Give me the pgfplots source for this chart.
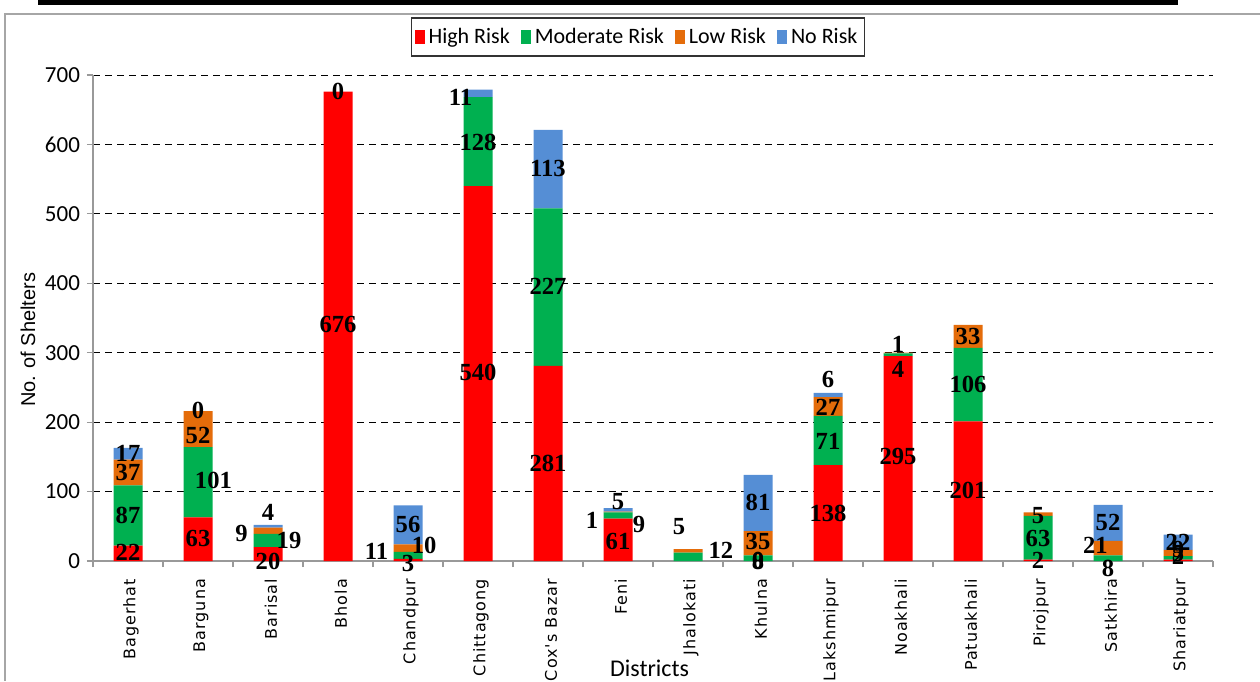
\documentclass[border=0pt]{standalone}
\usepackage{fontspec}
\setmainfont{Carlito}
\newfontfamily\lblfont{Liberation Serif}
\newfontfamily\tickfont[LetterSpace=6]{DejaVu Sans}
\newfontfamily\arialfont{Liberation Sans}
\usepackage{pgfplots}
\pgfplotsset{compat=1.18}
\definecolor{cHigh}{HTML}{FF0000}
\definecolor{cMod}{HTML}{00B050}
\definecolor{cLow}{HTML}{E46C0A}
\definecolor{cNo}{HTML}{558ED5}
\begin{document}
\begin{tikzpicture}
\useasboundingbox (0pt,0pt) rectangle (630pt,340.5pt);
\draw[line width=2.5pt] (19pt,339.25pt) -- (589pt,339.25pt);
\draw[gray!70, line width=0.75pt] (2.5pt,0pt) -- (2.5pt,333.5pt) -- (630pt,333.5pt);
\begin{axis}[
  at={(46.5pt,60pt)}, anchor=south west, scale only axis,
  width=560pt, height=243pt,
  xmin=-0.5, xmax=15.5, ymin=0, ymax=700,
  ybar stacked, bar width=14.5pt,
  axis x line*=bottom, axis y line*=left,
  axis line style={gray!80, line width=0.6pt},
  tick align=outside,
  ytick={0,100,...,700},
  ytick style={gray!80, line width=0.6pt},
  major tick length=3pt,
  yticklabel style={font=\fontsize{11.5}{13}\selectfont, black},
  /pgf/number format/assume math mode=true,
  ymajorgrids,
  grid style={black, dash pattern=on 3.5pt off 2.5pt, line width=0.5pt},
  xtick={-0.5,0.5,...,15.5},
  xticklabels={},
  xtick style={gray!80, line width=0.6pt},
  extra x ticks={0,1,...,15},
  extra x tick labels={Bagerhat,Barguna,Barisal,Bhola,Chandpur,Chittagong,Cox's Bazar,Feni,Jhalokati,Khulna,Lakshmipur,Noakhali,Patuakhali,Pirojpur,Satkhira,Shariatpur},
  extra x tick style={major tick length=0pt, xticklabel style={rotate=90, anchor=east, font=\tickfont\fontsize{8}{9}\selectfont, xshift=-5.5pt, yshift=-1.5pt}},
  xlabel={Districts},
  xlabel style={at={(axis description cs:0.497,-0.22)}, anchor=center, font=\fontsize{12}{14}\selectfont},
  ylabel={No. of Shelters},
  ylabel style={at={(axis description cs:-0.058,0.455)}, anchor=center, font=\arialfont\fontsize{10}{12}\selectfont},
  legend style={at={(0.4866,1.119)}, anchor=north, draw=black!80, line width=0.8pt,
    font=\fontsize{11}{13}\selectfont, inner xsep=1.5pt, inner ysep=3pt,
    /tikz/every even column/.append style={column sep=3.5pt}},
  legend columns=4,
  legend image code/.code={\fill[#1] (0pt,-3.5pt) rectangle (5pt,3.5pt);},
]
\addplot[fill=cHigh, draw=none] coordinates {(0,22) (1,63) (2,20) (3,676) (4,3) (5,540) (6,281) (7,61) (8,0) (9,0) (10,138) (11,295) (12,201) (13,2) (14,0) (15,2)};
\addplot[fill=cMod, draw=none] coordinates {(0,87) (1,101) (2,19) (3,0) (4,10) (5,128) (6,227) (7,9) (8,12) (9,8) (10,71) (11,4) (12,106) (13,63) (14,8) (15,5)};
\addplot[fill=cLow, draw=none] coordinates {(0,37) (1,52) (2,9) (3,0) (4,11) (5,0) (6,0) (7,1) (8,5) (9,35) (10,27) (11,1) (12,33) (13,5) (14,21) (15,9)};
\addplot[fill=cNo, draw=none] coordinates {(0,17) (1,0) (2,4) (3,0) (4,56) (5,11) (6,113) (7,5) (8,0) (9,81) (10,6) (11,0) (12,0) (13,0) (14,52) (15,22)};
\legend{High Risk, Moderate Risk, Low Risk, No Risk}
\end{axis}
\begin{axis}[
  at={(46.5pt,60pt)}, anchor=south west, scale only axis,
  width=560pt, height=243pt,
  xmin=-0.5, xmax=15.5, ymin=0, ymax=700,
  hide axis, clip=false,
]
\addplot[draw=none, mark=none, nodes near coords, point meta=explicit symbolic,
  nodes near coords align=center,
  every node near coord/.append style={anchor=center, inner sep=0pt, font=\lblfont\bfseries\fontsize{12.3}{14}\selectfont, black}]
 table[x=x, y=y, meta=l] {
x y l
0 12 22
0 65 87
0 127 37
0 155 17
1 33 63
1.22 116 101
1 181 52
1 217 0
2 0 20
2.3 30 19
1.62 39 9
2 70 4
3 340 676
3 677 0
4 -3 3
4.23 23 10
3.55 14 11
4 53 56
5 271 540
5 603 128
4.75 668 11
6 140 281
6 395 227
6 566 113
7 28 61
7.3 53 9
6.63 58 1
7 86 5
7.87 49 5
8.47 16 12
9 0 8
9 1 0
9 28 35
9 84 81
10 68 138
10 173 71
10 222 27
10 261 6
11 150 295
11 276 4
11 312 1
12 101 201
12 255 106
12 324 33
13 1 2
13 33 63
13 66 5
14 -10 8
13.82 22 21
14 56 52
15 27 22
15 17 9
15 11 5
15 6 2
};
\end{axis}
\end{tikzpicture}
\end{document}
